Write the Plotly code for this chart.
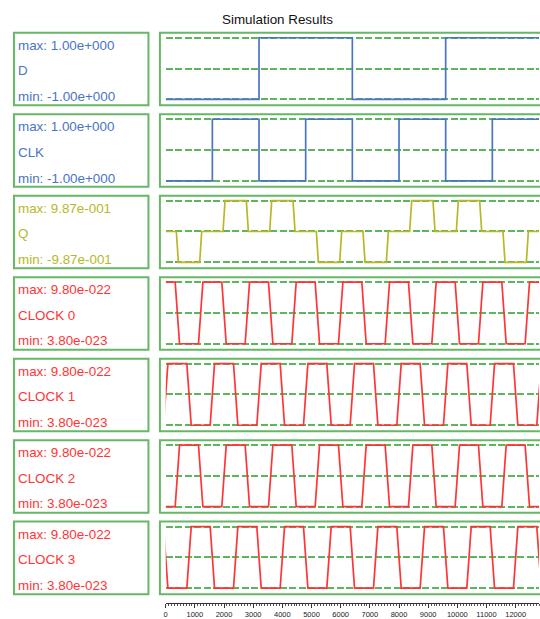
import plotly.graph_objects as go

W, H = 540, 619

# ---------------- data ----------------
TIME_END = 12800
SIGNAL_NAMES = ["D", "CLK", "Q", "CLOCK 0", "CLOCK 1", "CLOCK 2", "CLOCK 3"]
MAX_LABELS = ["1.00e+000", "1.00e+000", "9.87e-001", "9.80e-022", "9.80e-022", "9.80e-022", "9.80e-022"]
MIN_LABELS = ["-1.00e+000", "-1.00e+000", "-9.87e-001", "3.80e-023", "3.80e-023", "3.80e-023", "3.80e-023"]
SIG_MAX = [1.0, 1.0, 0.987, 9.8e-22, 9.8e-22, 9.8e-22, 9.8e-22]
SIG_MIN = [-1.0, -1.0, -0.987, 3.8e-23, 3.8e-23, 3.8e-23, 3.8e-23]

# each signal: starting level, edge times, level after each edge
D_START = -1.0
D_EDGE_TIMES = [3200, 6400, 9600]
D_EDGE_LEVELS = [1.0, -1.0, 1.0]

CLK_START = -1.0
CLK_EDGE_TIMES = [1600, 3200, 4800, 6400, 8000, 9600, 11200]
CLK_EDGE_LEVELS = [1.0, -1.0, 1.0, -1.0, 1.0, -1.0, 1.0]

Q_START = 0.0
Q_EDGE_TIMES = [400, 1200, 2000, 2800, 3600, 4400, 5200, 6000, 6800, 7600, 8400, 9200, 10000, 10800, 11600, 12400]
Q_EDGE_LEVELS = [-0.987, 0.0, 0.987, 0.0, 0.987, 0.0, -0.987, 0.0, -0.987, 0.0, 0.987, 0.0, 0.987, 0.0, -0.987, 0.0]

HI, LO = 9.8e-22, 3.8e-23
CLOCK0_START = HI
CLOCK0_EDGE_TIMES = [400, 1200, 2000, 2800, 3600, 4400, 5200, 6000, 6800, 7600, 8400, 9200, 10000, 10800, 11600, 12400]
CLOCK0_EDGE_LEVELS = [LO, HI, LO, HI, LO, HI, LO, HI, LO, HI, LO, HI, LO, HI, LO, HI]

CLOCK1_START = LO
CLOCK1_EDGE_TIMES = [0, 800, 1600, 2400, 3200, 4000, 4800, 5600, 6400, 7200, 8000, 8800, 9600, 10400, 11200, 12000, 12800]
CLOCK1_EDGE_LEVELS = [HI, LO, HI, LO, HI, LO, HI, LO, HI, LO, HI, LO, HI, LO, HI, LO, HI]

CLOCK2_START = LO
CLOCK2_EDGE_TIMES = [400, 1200, 2000, 2800, 3600, 4400, 5200, 6000, 6800, 7600, 8400, 9200, 10000, 10800, 11600, 12400]
CLOCK2_EDGE_LEVELS = [HI, LO, HI, LO, HI, LO, HI, LO, HI, LO, HI, LO, HI, LO, HI, LO]

CLOCK3_START = HI
CLOCK3_EDGE_TIMES = [0, 800, 1600, 2400, 3200, 4000, 4800, 5600, 6400, 7200, 8000, 8800, 9600, 10400, 11200, 12000, 12800]
CLOCK3_EDGE_LEVELS = [LO, HI, LO, HI, LO, HI, LO, HI, LO, HI, LO, HI, LO, HI, LO, HI, LO]

X_TICKS = [0, 1000, 2000, 3000, 4000, 5000, 6000, 7000, 8000, 9000, 10000, 11000, 12000]

# ---------------- styles ----------------
BLUE = "#4a74c6"
OLIVE = "#b8b826"
RED = "#ff3535"
GREEN_BOX = "#66b866"
GREEN_DASH = "#5db55d"
FONT = "Liberation Sans, Arial, sans-serif"

SIGNALS = [
    (D_START, D_EDGE_TIMES, D_EDGE_LEVELS, 0, BLUE),
    (CLK_START, CLK_EDGE_TIMES, CLK_EDGE_LEVELS, 0, BLUE),
    (Q_START, Q_EDGE_TIMES, Q_EDGE_LEVELS, 70, OLIVE),
    (CLOCK0_START, CLOCK0_EDGE_TIMES, CLOCK0_EDGE_LEVELS, 150, RED),
    (CLOCK1_START, CLOCK1_EDGE_TIMES, CLOCK1_EDGE_LEVELS, 150, RED),
    (CLOCK2_START, CLOCK2_EDGE_TIMES, CLOCK2_EDGE_LEVELS, 150, RED),
    (CLOCK3_START, CLOCK3_EDGE_TIMES, CLOCK3_EDGE_LEVELS, 150, RED),
]


def waveform(start, times, levels, width):
    xs = [min(0, times[0] - width / 2)]
    ys = [start]
    cur = start
    for t, lv in zip(times, levels):
        xs += [t - width / 2, t + width / 2]
        ys += [cur, lv]
        cur = lv
    xs.append(max(TIME_END, xs[-1]))
    ys.append(cur)
    return xs, ys


def px(x):
    return x / W


def py(y):
    return 1 - y / H


ROW_TOP0 = 33
ROW_PITCH = 82
ROW_H = 73
X_LEFT_PX, X_RIGHT_PX = 164.3, 539.0

fig = go.Figure()
shapes = []
annotations = []
layout = {}

for k, (start, times, levels, width, color) in enumerate(SIGNALS):
    i = k + 1
    top = ROW_TOP0 + ROW_PITCH * k
    bot = top + ROW_H
    vmax, vmin = SIG_MAX[k], SIG_MIN[k]
    max_px, min_px = top + 5.0, top + 67.0
    span_px = min_px - max_px
    d_top, d_bot = top + 1.5, bot - 1.5
    rng = vmax - vmin
    r_top = vmax + (max_px - d_top) / span_px * rng
    r_bot = vmin - (d_bot - min_px) / span_px * rng

    xs, ys = waveform(start, times, levels, width)
    fig.add_trace(go.Scatter(
        x=xs, y=ys, mode="lines", line=dict(color=color, width=1.7),
        xaxis=f"x{i}", yaxis=f"y{i}", showlegend=False, hoverinfo="skip"))

    xa = dict(domain=[px(X_LEFT_PX), px(X_RIGHT_PX)], range=[0, TIME_END],
              anchor=f"y{i}", showgrid=False, zeroline=False, fixedrange=True)
    if i < 7:
        xa.update(showticklabels=False, ticks="", showline=False, matches="x7")
    else:
        xa.update(anchor="free", position=py(606.5), showline=True, linecolor="#333",
                  linewidth=1, ticks="outside", ticklen=4, tickwidth=1, tickcolor="#333",
                  tickmode="array", tickvals=X_TICKS, ticktext=[str(v) for v in X_TICKS],
                  tickfont=dict(family=FONT, size=7.5, color="#222"),
                  minor=dict(ticks="outside", ticklen=2, tickwidth=1, tickcolor="#555", dtick=100, tick0=0))
    layout[f"xaxis{i}"] = xa
    layout[f"yaxis{i}"] = dict(
        domain=[py(d_bot), py(d_top)], range=[r_bot, r_top], anchor=f"x{i}",
        tickmode="array", tickvals=[vmin, (vmin + vmax) / 2, vmax],
        showticklabels=False, ticks="", showgrid=True, gridcolor=GREEN_DASH,
        gridwidth=2, griddash="7px,2.5px", zeroline=False, showline=False, fixedrange=True)

    # boxes
    for x0, x1 in [(12.0, 147.0), (158.5, 600.0)]:
        shapes.append(dict(type="rect", xref="paper", yref="paper",
                           x0=px(x0), x1=px(x1), y0=py(bot), y1=py(top),
                           line=dict(color=GREEN_BOX, width=2), fillcolor="rgba(0,0,0,0)",
                           layer="above"))
    # labels
    for txt, off in [(f"max: {MAX_LABELS[k]}", 12.7), (SIGNAL_NAMES[k], 38.2),
                     (f"min: {MIN_LABELS[k]}", 64.2)]:
        annotations.append(dict(text=txt, xref="paper", yref="paper", x=px(14.5),
                                y=py(top + off), xanchor="left", yanchor="middle",
                                showarrow=False, font=dict(family=FONT, size=13.4, color=color)))

annotations.append(dict(text="Simulation Results", xref="paper", yref="paper",
                        x=px(277), y=py(20), xanchor="center", yanchor="middle",
                        showarrow=False, font=dict(family=FONT, size=13.4, color="#111")))

fig.update_layout(
    width=W, height=H, autosize=False,
    margin=dict(l=0, r=0, t=0, b=0),
    paper_bgcolor="white", plot_bgcolor="white",
    shapes=shapes, annotations=annotations, showlegend=False,
    **layout)

fig.write_html(
    "out.html",
    config={"displayModeBar": False, "staticPlot": True},
    post_script="document.body.style.margin='0';document.body.style.overflow='hidden';",
)
